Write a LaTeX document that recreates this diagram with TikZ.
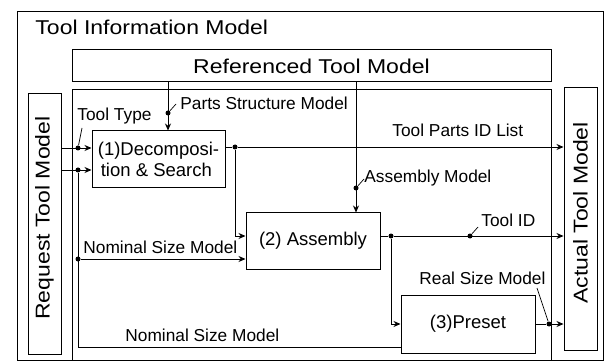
\documentclass[tikz,border=0pt]{standalone}
\usepackage{fontspec}
\setmainfont{Liberation Sans}
\newfontfamily\widefont[FakeStretch=1.15]{Liberation Sans}
\usetikzlibrary{arrows.meta}
\begin{document}
\begin{tikzpicture}[x=1pt,y=-1pt,
  line width=0.9pt,
  box/.style={draw, line width=1pt, inner sep=0pt, align=left, font=\fontsize{18.5}{21}\selectfont},
  bigbox/.style={draw, line width=1pt, inner sep=0pt},
  bigtext/.style={inner sep=0pt, font=\widefont\fontsize{20}{24}\selectfont},
  lbl/.style={inner sep=0pt, anchor=base west, font=\fontsize{17.3}{20}\selectfont},
  arr/.style={-{Stealth[length=7pt,width=6pt]}},
  dot/.style={circle, fill, inner sep=0pt, minimum size=5pt},
  leader/.style={line width=0.7pt}]
\useasboundingbox (0,0) rectangle (612,363);

% frames
\draw[line width=1pt] (17,12) rectangle (603,360);
\draw[line width=1pt] (72,360) -- (72,90) -- (551,90) -- (551,360);
\node[bigtext, anchor=base west] (title) at (35,35) {Tool Information Model};

% boxes
\node[bigbox, minimum width=479pt, minimum height=32pt, font=\widefont\fontsize{20}{24}\selectfont] (ref) at (311.5,66) {Referenced Tool Model};
\node[bigbox, minimum width=33pt, minimum height=260pt] (req) at (44.5,224) {};
\node[bigtext, rotate=90] (reqtxt) at (44.5,218) {Request Tool Model};
\node[bigbox, minimum width=33pt, minimum height=262pt] (act) at (580.5,219) {};
\node[bigtext, rotate=90] (acttxt) at (580.5,213) {Actual Tool Model};

\node[box, minimum width=133pt, minimum height=57pt] (d1) at (158.5,159.5) {(1)Decomposi-\\\hspace{3pt}tion \& Search};
\node[box, minimum width=134pt, minimum height=56pt] (asm) at (313,241) {(2) Assembly};
\node[box, minimum width=134pt, minimum height=58pt] (pre) at (468,324) {(3)Preset};

% dots
\node[dot] (dA) at (78,148) {};
\node[dot] (dB) at (78,170) {};
\node[dot] (dC) at (78,259) {};
\coordinate (cD) at (78,347);
\node[dot] (dPS) at (168,113) {};
\node[dot] (dAM) at (356,188) {};
\node[dot] (d1o) at (235,147) {};
\node[dot] (d2o) at (391,236) {};
\node[dot] (dTID) at (470,236) {};
\node[dot] (d3o) at (549,324) {};

% connectors
\draw[arr] (req.east |- dA) -- (d1.west |- dA);
\draw[arr] (req.east |- dB) -- (d1.west |- dB);
\draw (dB) -- (cD) -- (pre.west |- cD);
\draw[arr] (dC) -- (asm.west |- dC);
\draw[arr] (ref.south -| dPS) -- (d1.north -| dPS);
\draw[arr] (ref.south -| dAM) -- (asm.north -| dAM);
\draw (d1.east |- d1o) -- (d1o);
\draw[arr] (d1o) -- (act.west |- d1o);
\draw[arr] (d1o) |- (asm.west |- d2o);
\draw (asm.east |- d2o) -- (d2o);
\draw[arr] (d2o) -- (act.west |- d2o);
\draw[arr] (d2o) |- (pre.west);
\draw (pre.east) -- (d3o);
\draw[arr] (d3o) -- (act.west |- d3o);

% labels
\node[lbl] (lTT) at (77,120.5) {Tool Type};
\node[lbl] (lPS) at (180,110) {Parts Structure Model};
\node[lbl] (lTP) at (392,137) {Tool Parts ID List};
\node[lbl] (lAM) at (364,182.5) {Assembly Model};
\node[lbl] (lTID) at (481,226) {Tool ID};
\node[lbl] (lNS1) at (83,253) {Nominal Size Model};
\node[lbl] (lRS) at (419,284) {Real Size Model};
\node[lbl] (lNS2) at (125,341) {Nominal Size Model};

% leaders
\draw[leader] (dPS) -- ++(8,-9);
\draw[leader] (dA) -- ++(4,-20);
\draw[leader] (dAM) -- ++(8,-9);
\draw[leader] (dTID) -- ++(8,-9);
\draw[leader] (d3o) -- ++(-12,-36);
\end{tikzpicture}
\end{document}
